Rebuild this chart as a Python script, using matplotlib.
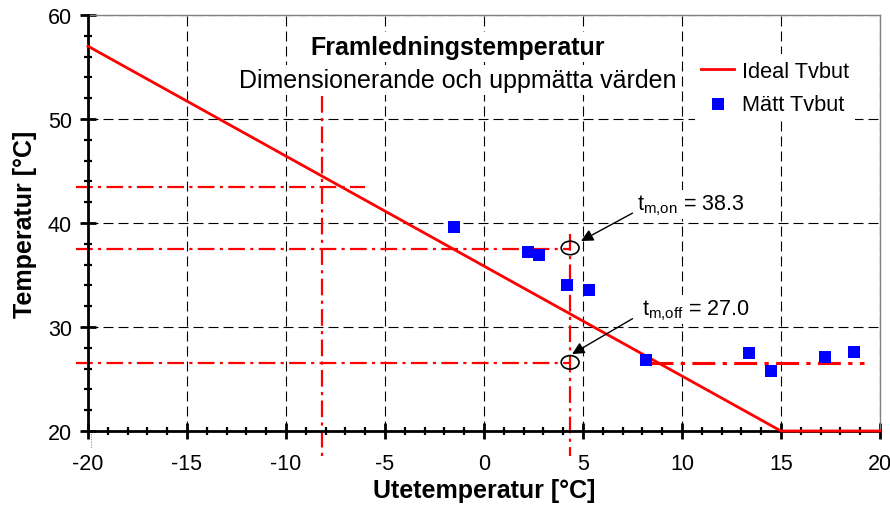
import matplotlib
matplotlib.use("Agg")
import matplotlib.pyplot as plt
from matplotlib.patches import Ellipse
from matplotlib.ticker import MultipleLocator

plt.rcParams['font.family'] = ['Liberation Sans', 'DejaVu Sans']
plt.rcParams['mathtext.fontset'] = 'custom'
plt.rcParams['mathtext.rm'] = 'Liberation Sans'
plt.rcParams['mathtext.it'] = 'Liberation Sans:italic'
plt.rcParams['axes.unicode_minus'] = False

# ---- data ----
ideal_x = [-20, 15, 20]
ideal_y = [57, 20, 20]
meas_x = [-1.5, 2.2, 2.8, 4.2, 5.3, 8.2, 13.4, 14.5, 17.2, 18.7]
meas_y = [39.6, 37.2, 36.9, 34.0, 33.6, 26.8, 27.5, 25.8, 27.1, 27.6]
dut_x = -8.2          # dimensioning outdoor temperature
dut_y = 43.5
t_switch = 4.35       # outdoor temp at on/off point
t_on = 37.5
t_off = 26.5
tail_x = [8.4, 19.2]
label_on = "38.3"
label_off = "27.0"
x_ticks = [-20, -15, -10, -5, 0, 5, 10, 15, 20]
y_ticks = [20, 30, 40, 50, 60]

fig = plt.figure(figsize=(8.9, 5.1), dpi=100)
ax = fig.add_axes([88/890, 1-432/510, 792/890, 416/510])
ax.set_xlim(-20, 20)
ax.set_ylim(20, 60)
ax.set_xticks(x_ticks)
ax.set_yticks(y_ticks)
ax.xaxis.set_minor_locator(MultipleLocator(1))
ax.yaxis.set_minor_locator(MultipleLocator(2))

ax.grid(True, which='major', color='black', linestyle=(0, (9, 4.5)), linewidth=0.8)
ax.set_axisbelow(True)

for s in ['top', 'right']:
    ax.spines[s].set_color('#808080')
    ax.spines[s].set_linewidth(1.0)
for s in ['left', 'bottom']:
    ax.spines[s].set_color('black')
    ax.spines[s].set_linewidth(2.0)
    ax.spines[s].set_zorder(5)

ax.tick_params(which='major', direction='inout', length=11, width=2, labelsize=15.5, color='black')
ax.tick_params(which='minor', direction='inout', length=6, width=1.6, color='black')
ax.tick_params(axis='x', which='major', pad=10.5)
ax.tick_params(axis='y', which='major', pad=6)

red = '#FF0000'
dd = (0, (7.5, 2.4, 1.4, 2.4))
# dashdot reference lines
ax.plot([dut_x, dut_x], [52.2, 17.6], color=red, lw=1.6, ls=dd, clip_on=False, zorder=3)
ax.plot([-20.6, -6.0], [dut_y, dut_y], color=red, lw=1.6, ls=dd, clip_on=False, zorder=3)
ax.plot([-20.6, t_switch], [t_on, t_on], color=red, lw=1.6, ls=dd, clip_on=False, zorder=3)
ax.plot([-20.6, t_switch], [t_off, t_off], color=red, lw=1.6, ls=dd, clip_on=False, zorder=3)
ax.plot([t_switch, t_switch], [38.9, 17.6], color=red, lw=1.6, ls=dd, clip_on=False, zorder=3)
ax.plot(tail_x, [t_off, t_off], color=red, lw=2.2, ls=dd, clip_on=False, zorder=3)
# small dotted marker under the axis origin
ax.plot([-19.85, -19.85], [20, 18.3], color='#808080', lw=0.7, ls=':', clip_on=False, zorder=2)

# ideal line
ax.plot(ideal_x, ideal_y, color=red, lw=2.0, clip_on=False, zorder=6, label='Ideal Tvbut')
# measured
ax.scatter(meas_x, meas_y, marker='s', s=80, color='#0000FF', zorder=7, label='Mätt Tvbut',
           linewidths=0)

# circles
for yc in [37.6, 26.6]:
    ax.add_patch(Ellipse((t_switch, yc), 0.9, 1.3, fill=False, edgecolor='black', lw=1.2, zorder=8))

# annotations
ax.text(7.72, 41.35, r"$\mathrm{t}_{\mathrm{m{,}on}}$ = " + label_on, fontsize=15.5, va='baseline',
        ha='left', zorder=9, bbox=dict(facecolor='white', edgecolor='none', pad=1.5))
ax.text(7.98, 31.25, r"$\mathrm{t}_{\mathrm{m{,}off}}$ = " + label_off, fontsize=15.5, va='baseline',
        ha='left', zorder=9, bbox=dict(facecolor='white', edgecolor='none', pad=1.5))
ap = dict(arrowstyle='-|>', color='black', lw=1.0, mutation_scale=18, shrinkA=0, shrinkB=0)
ax.annotate('', xy=(4.9, 38.27), xytext=(7.5, 40.95), arrowprops=ap, zorder=9)
ax.annotate('', xy=(4.45, 27.4), xytext=(7.5, 30.8), arrowprops=ap, zorder=9)

# title texts
ax.text(0.467, 0.923, "Framledningstemperatur", transform=ax.transAxes, fontsize=18,
        fontweight='bold', ha='center', va='center', zorder=9,
        bbox=dict(facecolor='white', edgecolor='none', pad=2))
ax.text(0.467, 0.844, "Dimensionerande och uppmätta värden", transform=ax.transAxes, fontsize=18,
        ha='center', va='center', zorder=9,
        bbox=dict(facecolor='white', edgecolor='none', pad=2))

leg = ax.legend(loc='upper left', bbox_to_anchor=(0.766, 0.906), fontsize=15.7, frameon=True,
                facecolor='white', edgecolor='none', framealpha=1, fancybox=False,
                handlelength=1.5, handletextpad=0.35, labelspacing=0.55, borderpad=0.3,
                borderaxespad=0, scatterpoints=1)
leg.set_zorder(10)

ax.set_xlabel("Utetemperatur [°C]", fontsize=18, fontweight='bold', labelpad=3)
ax.set_ylabel("Temperatur [°C]", fontsize=18, fontweight='bold', labelpad=8)

fig.savefig("out.png", dpi=100)
